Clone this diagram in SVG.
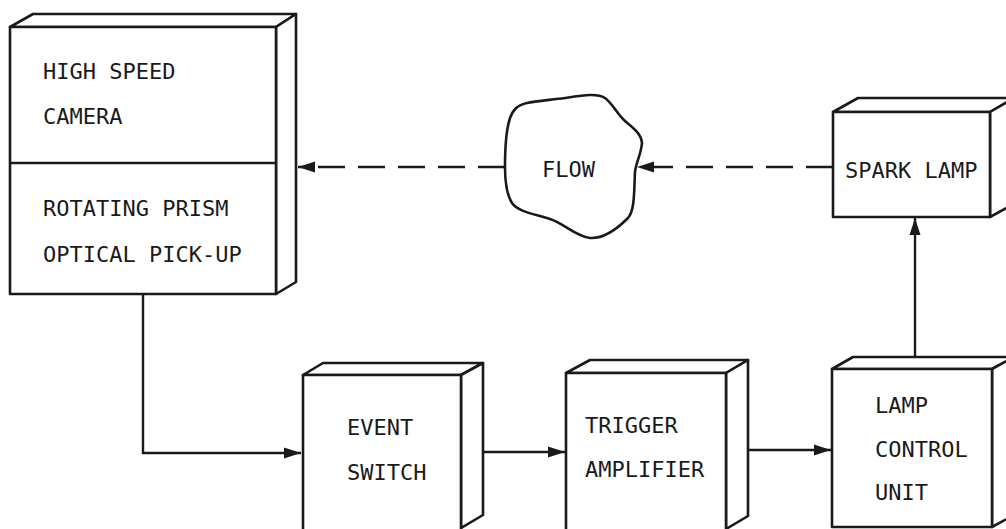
<svg xmlns="http://www.w3.org/2000/svg" width="1006" height="529" viewBox="0 0 1006 529">
<defs>
<marker id="arr" markerUnits="userSpaceOnUse" markerWidth="18" markerHeight="12" refX="17" refY="6" orient="auto">
<path d="M0,0.5 L17,6 L0,11.5 Z" fill="#1a1a1a"/>
</marker>
</defs>
<style>
.box{fill:#fff;stroke:#1a1a1a;stroke-width:2.6;stroke-linejoin:round}
.ln{fill:none;stroke:#1a1a1a;stroke-width:2.4}
.dash{stroke-dasharray:27 13}
.t{font-family:"DejaVu Sans Mono","Liberation Mono",monospace;font-size:22px;fill:#1a1a1a}
</style>
<rect width="1006" height="529" fill="#fff"/>
<g id="connectors">
<path class="ln" d="M143,294 V453 H301" marker-end="url(#arr)"/>
<path class="ln" d="M483,452 H565" marker-end="url(#arr)"/>
<path class="ln" d="M748,450 H831" marker-end="url(#arr)"/>
<path class="ln" d="M915,357 V218" marker-end="url(#arr)"/>
<path class="ln dash" d="M833,167 H637" marker-end="url(#arr)"/>
<path class="ln dash" d="M505,167 H298" marker-end="url(#arr)"/>
</g>
<g id="camera">
<polygon class="box" points="10,27 33,14 296,14 276,27"/>
<polygon class="box" points="276,27 296,14 296,282 276,294"/>
<rect class="box" x="10" y="27" width="266" height="267"/>
<line class="ln" x1="10" y1="163" x2="276" y2="163"/>
<text class="t" x="43" y="79">HIGH SPEED</text>
<text class="t" x="43" y="124">CAMERA</text>
<text class="t" x="43" y="216">ROTATING PRISM</text>
<text class="t" x="43" y="262">OPTICAL PICK-UP</text>
</g>
<g id="flow">
<path class="box" d="M527,103 C517,105 513,110 510,118 C506,130 505,150 505,167 C505,180 507,195 512,203 C518,212 535,214 550,219 C565,224 575,236 590,238 C605,239 618,228 628,218 C635,210 634,190 635,172 C636,162 641,155 642,143 C641,133 632,127 625,121 C617,114 613,104 605,98 C597,93 585,95 565,98 C550,100 535,101 527,103 Z"/>
<text class="t" x="542" y="177">FLOW</text>
</g>
<g id="spark-lamp">
<polygon class="box" points="833,112 858,98 1014,98 990,112"/>
<polygon class="box" points="990,112 1014,98 1014,204 990,217"/>
<rect class="box" x="833" y="112" width="157" height="105"/>
<text class="t" x="845" y="178">SPARK LAMP</text>
</g>
<g id="event-switch">
<polygon class="box" points="303,375 323,363 483,363 461,375"/>
<polygon class="box" points="461,375 483,363 483,515 461,528"/>
<rect class="box" x="303" y="375" width="158" height="160"/>
<text class="t" x="347" y="435">EVENT</text>
<text class="t" x="347" y="480">SWITCH</text>
</g>
<g id="trigger-amplifier">
<polygon class="box" points="566,373 590,360 748,360 726,373"/>
<polygon class="box" points="726,373 748,360 748,516 726,529"/>
<rect class="box" x="566" y="373" width="160" height="162"/>
<text class="t" x="585" y="433">TRIGGER</text>
<text class="t" x="585" y="477">AMPLIFIER</text>
</g>
<g id="lamp-control-unit">
<polygon class="box" points="832,369 853,357 1014,357 992,369"/>
<polygon class="box" points="992,369 1014,357 1014,515 992,527"/>
<rect class="box" x="832" y="369" width="160" height="158"/>
<text class="t" x="875" y="413">LAMP</text>
<text class="t" x="875" y="457">CONTROL</text>
<text class="t" x="875" y="500">UNIT</text>
</g>
</svg>
